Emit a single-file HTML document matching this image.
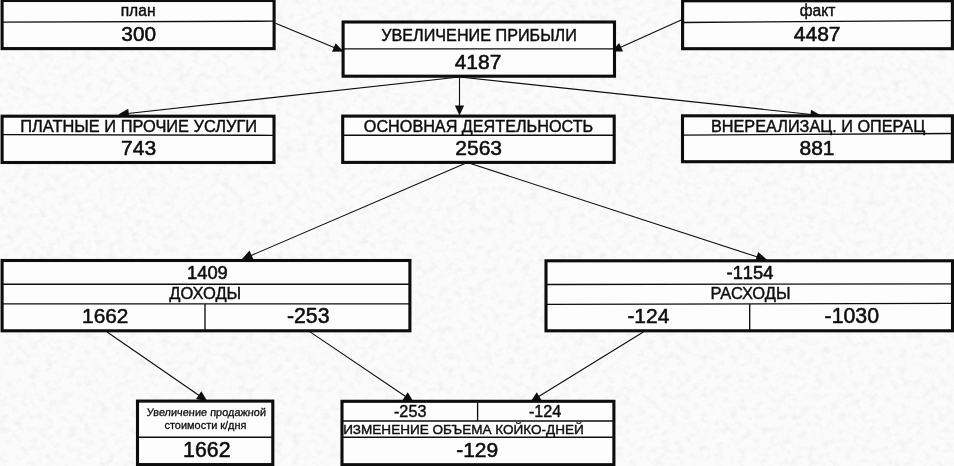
<!DOCTYPE html>
<html lang="ru"><head><meta charset="utf-8"><title>Схема</title>
<style>
html,body{margin:0;padding:0;background:#fbfbfb;}
body{width:954px;height:466px;overflow:hidden;}
svg{display:block;font-family:"Liberation Sans",Arial,sans-serif;fill:#0d0d0d;will-change:transform;}
text{stroke:#0d0d0d;stroke-linejoin:round;}
</style></head><body>
<svg width="954" height="466" viewBox="0 0 954 466">
<defs>
<filter id="mottle" x="0" y="0" width="100%" height="100%" color-interpolation-filters="sRGB">
<feTurbulence type="fractalNoise" baseFrequency="0.13 0.15" numOctaves="3" seed="7" result="n"/>
<feColorMatrix in="n" type="matrix" values="0 0 0 0 0.55  0 0 0 0 0.55  0 0 0 0 0.55  2.2 0 0 0 -1.02"/>
</filter>
</defs>
<rect x="0" y="0" width="954" height="466" fill="#fbfbfb"/>
<rect x="0" y="0" width="954" height="466" filter="url(#mottle)" opacity="0.10"/>
<line x1="275.5" y1="23.2" x2="334.73" y2="47.85" stroke="#0d0d0d" stroke-width="1.1"/>
<polygon points="343.5,51.5 332.00,51.80 335.61,43.13" fill="#0d0d0d"/>
<line x1="681.2" y1="20" x2="620.16" y2="47.59" stroke="#0d0d0d" stroke-width="1.1"/>
<polygon points="611.5,51.5 619.13,42.89 623.00,51.46" fill="#0d0d0d"/>
<line x1="459.5" y1="77" x2="127.74" y2="113.46" stroke="#0d0d0d" stroke-width="1.1"/>
<polygon points="118.3,114.5 128.22,108.68 129.25,118.02" fill="#0d0d0d"/>
<line x1="459.5" y1="77" x2="459.50" y2="106.50" stroke="#0d0d0d" stroke-width="1.1"/>
<polygon points="459.5,115.5 454.90,105.50 464.10,105.50" fill="#0d0d0d"/>
<line x1="459.5" y1="77" x2="811.55" y2="114.49" stroke="#0d0d0d" stroke-width="1.1"/>
<polygon points="821,115.5 810.06,119.06 811.06,109.71" fill="#0d0d0d"/>
<line x1="467.3" y1="162.5" x2="250.69" y2="255.65" stroke="#0d0d0d" stroke-width="1.1"/>
<polygon points="241.5,259.6 249.57,250.52 253.64,259.99" fill="#0d0d0d"/>
<line x1="467.3" y1="162.5" x2="757.62" y2="257.05" stroke="#0d0d0d" stroke-width="1.1"/>
<polygon points="767.6,260.3 755.12,261.49 758.21,251.98" fill="#0d0d0d"/>
<line x1="107.1" y1="332" x2="199.48" y2="395.80" stroke="#0d0d0d" stroke-width="1.1"/>
<polygon points="207.3,401.2 195.99,399.10 201.33,391.37" fill="#0d0d0d"/>
<line x1="309.3" y1="331.4" x2="406.01" y2="396.68" stroke="#0d0d0d" stroke-width="1.1"/>
<polygon points="413.3,401.6 402.60,399.93 407.75,392.30" fill="#0d0d0d"/>
<line x1="643.3" y1="332" x2="538.29" y2="396.78" stroke="#0d0d0d" stroke-width="1.1"/>
<polygon points="530.8,401.4 536.73,392.34 541.56,400.17" fill="#0d0d0d"/>
<rect x="2.1" y="0.5" width="272.0" height="48.1" fill="#fdfdfd" stroke="#0d0d0d" stroke-width="3.1"/>
<line x1="2.1" y1="22.1" x2="274.1" y2="21.2" stroke="#0d0d0d" stroke-width="1.35"/>
<text x="138.1" y="16.4" font-size="15.6" text-anchor="middle" stroke-width="0.42" >план</text>
<text x="138.7" y="41.3" font-size="20.8" text-anchor="middle" stroke-width="0.55"  style="font-kerning:none">300</text>
<rect x="343.1" y="22" width="271.4" height="54.2" fill="#fdfdfd" stroke="#0d0d0d" stroke-width="3.1"/>
<line x1="343.1" y1="48.9" x2="614.5" y2="48.9" stroke="#0d0d0d" stroke-width="1.35"/>
<text x="479" y="41.4" font-size="16.2" text-anchor="middle" stroke-width="0.42" >УВЕЛИЧЕНИЕ ПРИБЫЛИ</text>
<text x="478" y="69" font-size="21" text-anchor="middle" stroke-width="0.55"  style="font-kerning:none">4187</text>
<rect x="682.6" y="0.8" width="269.8" height="47.9" fill="#fdfdfd" stroke="#0d0d0d" stroke-width="3.1"/>
<line x1="682.6" y1="22.5" x2="952.4" y2="20.6" stroke="#0d0d0d" stroke-width="1.35"/>
<text x="817.6" y="16.4" font-size="15.6" text-anchor="middle" stroke-width="0.42" >факт</text>
<text x="817.2" y="41.2" font-size="21" text-anchor="middle" stroke-width="0.55"  style="font-kerning:none">4487</text>
<rect x="2.1" y="116.2" width="271.9" height="46.3" fill="#fdfdfd" stroke="#0d0d0d" stroke-width="3.1"/>
<line x1="2.1" y1="134.6" x2="274" y2="135.3" stroke="#0d0d0d" stroke-width="1.35"/>
<text x="138.7" y="131.5" font-size="16.4" text-anchor="middle" stroke-width="0.42" >ПЛАТНЫЕ И ПРОЧИЕ УСЛУГИ</text>
<text x="138.6" y="155.3" font-size="21" text-anchor="middle" stroke-width="0.55"  style="font-kerning:none">743</text>
<rect x="342.7" y="116.1" width="271.5" height="46.3" fill="#fdfdfd" stroke="#0d0d0d" stroke-width="3.1"/>
<line x1="342.7" y1="135.2" x2="614.2" y2="135.2" stroke="#0d0d0d" stroke-width="1.35"/>
<text x="478.5" y="131.5" font-size="16.2" text-anchor="middle" stroke-width="0.42" >ОСНОВНАЯ ДЕЯТЕЛЬНОСТЬ</text>
<text x="478.7" y="155.1" font-size="21" text-anchor="middle" stroke-width="0.55"  style="font-kerning:none">2563</text>
<rect x="682.5" y="115.8" width="269.9" height="45.9" fill="#fdfdfd" stroke="#0d0d0d" stroke-width="3.1"/>
<line x1="682.5" y1="135.2" x2="952.4" y2="133.5" stroke="#0d0d0d" stroke-width="1.35"/>
<text x="818.1" y="131.5" font-size="16.25" text-anchor="middle" stroke-width="0.42" >ВНЕРЕАЛИЗАЦ. И ОПЕРАЦ</text>
<text x="817" y="155.1" font-size="21" text-anchor="middle" stroke-width="0.55"  style="font-kerning:none">881</text>
<rect x="2.1" y="260.5" width="407.8" height="70.3" fill="#fdfdfd" stroke="#0d0d0d" stroke-width="3.1"/>
<line x1="2.1" y1="284.2" x2="409.9" y2="284.2" stroke="#0d0d0d" stroke-width="1.35"/>
<line x1="2.1" y1="303.9" x2="409.9" y2="303.9" stroke="#0d0d0d" stroke-width="1.35"/>
<line x1="205" y1="303.9" x2="205" y2="330.8" stroke="#0d0d0d" stroke-width="1.35"/>
<text x="207.4" y="279" font-size="18.3" text-anchor="middle" stroke-width="0.55"  style="font-kerning:none">1409</text>
<text x="205.2" y="299.3" font-size="16.5" text-anchor="middle" stroke-width="0.42" >ДОХОДЫ</text>
<text x="105.2" y="322.9" font-size="20.8" text-anchor="middle" stroke-width="0.55"  style="font-kerning:none">1662</text>
<text x="308.2" y="323" font-size="21.3" text-anchor="middle" stroke-width="0.55"  style="font-kerning:none">-253</text>
<rect x="546" y="260.8" width="406.5" height="70.0" fill="#fdfdfd" stroke="#0d0d0d" stroke-width="3.1"/>
<line x1="546" y1="284.5" x2="952.5" y2="283.8" stroke="#0d0d0d" stroke-width="1.35"/>
<line x1="546" y1="304.4" x2="952.5" y2="303.4" stroke="#0d0d0d" stroke-width="1.35"/>
<line x1="749.7" y1="304" x2="749.7" y2="330.8" stroke="#0d0d0d" stroke-width="1.35"/>
<text x="750" y="279.3" font-size="18.3" text-anchor="middle" stroke-width="0.55"  style="font-kerning:none">-1154</text>
<text x="750.5" y="299.4" font-size="16.5" text-anchor="middle" stroke-width="0.42" >РАСХОДЫ</text>
<text x="648.4" y="323" font-size="21" text-anchor="middle" stroke-width="0.55"  style="font-kerning:none">-124</text>
<text x="851.8" y="323" font-size="21.3" text-anchor="middle" stroke-width="0.55"  style="font-kerning:none">-1030</text>
<rect x="137.5" y="401.1" width="135.3" height="63.5" fill="#fdfdfd" stroke="#0d0d0d" stroke-width="3.1"/>
<line x1="137.5" y1="437.2" x2="272.8" y2="437.2" stroke="#0d0d0d" stroke-width="1.35"/>
<text x="206.2" y="415.9" font-size="10.95" text-anchor="middle" stroke-width="0.3" transform="translate(206.2,415.9) skewX(-4) translate(-206.2,-415.9)">Увеличение продажной</text>
<text x="205.5" y="429.3" font-size="10.95" text-anchor="middle" stroke-width="0.3" >стоимости к/дня</text>
<text x="206.8" y="457.2" font-size="21.3" text-anchor="middle" stroke-width="0.55"  style="font-kerning:none">1662</text>
<rect x="342" y="401.3" width="271.9" height="63.4" fill="#fdfdfd" stroke="#0d0d0d" stroke-width="3.1"/>
<line x1="342" y1="421" x2="613.9" y2="421" stroke="#0d0d0d" stroke-width="1.35"/>
<line x1="342" y1="437.2" x2="613.9" y2="437.2" stroke="#0d0d0d" stroke-width="1.35"/>
<line x1="477.6" y1="401.3" x2="477.6" y2="421" stroke="#0d0d0d" stroke-width="1.35"/>
<text x="410.2" y="416.8" font-size="16.2" text-anchor="middle" stroke-width="0.42"  style="font-kerning:none">-253</text>
<text x="545.1" y="416.8" font-size="16.2" text-anchor="middle" stroke-width="0.42"  style="font-kerning:none">-124</text>
<text x="463.5" y="434.1" font-size="13.55" text-anchor="middle" stroke-width="0.42" >ИЗМЕНЕНИЕ ОБЪЕМА КОЙКО-ДНЕЙ</text>
<text x="477.2" y="457.2" font-size="21" text-anchor="middle" stroke-width="0.55"  style="font-kerning:none">-129</text>
</svg>
</body></html>
